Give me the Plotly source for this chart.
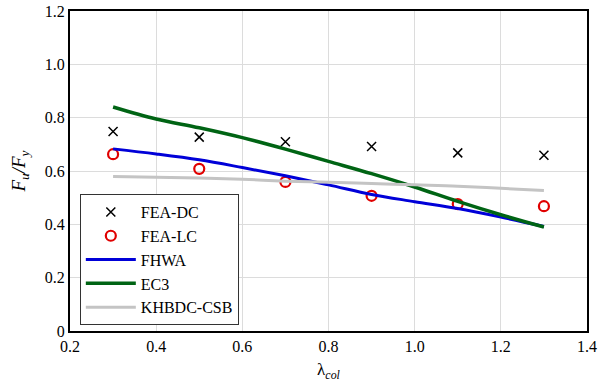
import plotly.graph_objects as go

lam_fea = [0.3, 0.5, 0.7, 0.9, 1.1, 1.3]
fea_dc = [0.748, 0.727, 0.710, 0.692, 0.668, 0.659]
fea_lc = [0.663, 0.608, 0.559, 0.507, 0.476, 0.468]

lam_code = [0.3, 0.4, 0.5, 0.6, 0.7, 0.8, 0.9, 1.0, 1.1, 1.2, 1.3]
fhwa = [0.683, 0.664, 0.642, 0.613, 0.582, 0.548, 0.512, 0.485, 0.459, 0.427, 0.392]
ec3 = [0.840, 0.795, 0.762, 0.725, 0.682, 0.636, 0.590, 0.540, 0.486, 0.436, 0.390]
khbdc = [0.579, 0.577, 0.574, 0.569, 0.562, 0.558, 0.553, 0.548, 0.543, 0.535, 0.527]

x_ticks = [0.2, 0.4, 0.6, 0.8, 1.0, 1.2, 1.4]
x_labels = ["0.2", "0.4", "0.6", "0.8", "1.0", "1.2", "1.4"]
y_ticks = [0, 0.2, 0.4, 0.6, 0.8, 1.0, 1.2]
y_labels = ["0", "0.2", "0.4", "0.6", "0.8", "1.0", "1.2"]

fig = go.Figure()
fig.add_trace(go.Scatter(x=lam_fea, y=fea_dc, mode="markers", name="FEA-DC",
                         marker=dict(symbol="x-thin", size=9, color="black",
                                     line=dict(color="black", width=1.5))))
fig.add_trace(go.Scatter(x=lam_fea, y=fea_lc, mode="markers", name="FEA-LC",
                         marker=dict(symbol="circle-open", size=10, color="#e00000",
                                     line=dict(color="#e00000", width=2.2))))
fig.add_trace(go.Scatter(x=lam_code, y=fhwa, mode="lines", name="FHWA",
                         line=dict(color="#0000d8", width=3, shape="spline")))
fig.add_trace(go.Scatter(x=lam_code, y=ec3, mode="lines", name="EC3",
                         line=dict(color="#006414", width=3.5, shape="spline")))
fig.add_trace(go.Scatter(x=lam_code, y=khbdc, mode="lines", name="KHBDC-CSB",
                         line=dict(color="#c4c4c4", width=3, shape="spline")))

font_family = "Liberation Serif"

fig.update_layout(
    width=599, height=389,
    margin=dict(l=70, r=12, t=11, b=58),
    paper_bgcolor="white", plot_bgcolor="white",
    font=dict(family=font_family, size=16, color="black"),
    showlegend=True,
    legend=dict(x=0.019, y=0.428, xanchor="left", yanchor="top",
                bgcolor="white", bordercolor="#333333", borderwidth=1,
                font=dict(family=font_family, size=16, color="black"),
                tracegroupgap=0, itemwidth=50),
)
fig.update_xaxes(range=[0.2, 1.4], tickvals=x_ticks, ticktext=x_labels,
                 showgrid=True, gridcolor="#dcdcdc", gridwidth=1,
                 showline=True, linecolor="black", linewidth=2, mirror=True,
                 zeroline=False, ticks="", automargin=False,
                 tickfont=dict(family=font_family, size=16),
                 title=dict(text="λ<sub><i>col</i></sub>", standoff=9,
                            font=dict(family=font_family, size=17)))
fig.update_yaxes(range=[0, 1.2], tickvals=y_ticks, ticktext=y_labels,
                 showgrid=True, gridcolor="#dcdcdc", gridwidth=1,
                 showline=True, linecolor="black", linewidth=2, mirror=True,
                 zeroline=False, ticks="", automargin=False,
                 tickfont=dict(family=font_family, size=16),
                 title=dict(text="<i>F<sub>u</sub>/F<sub>y</sub></i>", standoff=14,
                            font=dict(family=font_family, size=19)))

fig.write_html("out.html")
